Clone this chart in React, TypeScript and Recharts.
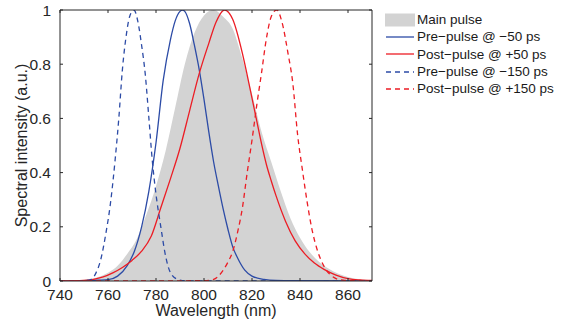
import { Area, ComposedChart, Line, ReferenceLine, XAxis, YAxis } from "recharts";

// wavelength (nm) and normalised spectral intensity
const mainNm = [740, 745, 750, 755, 760, 764, 768, 772, 776, 780, 784, 788, 792, 796, 800, 804, 808, 812, 816, 820, 824, 828, 832, 836, 840, 844, 848, 852, 856, 860, 865, 870];
const mainVal = [0, 0.002, 0.005, 0.012, 0.03, 0.056, 0.1, 0.155, 0.245, 0.35, 0.48, 0.64, 0.8, 0.915, 0.98, 1.0, 0.975, 0.93, 0.82, 0.69, 0.55, 0.44, 0.33, 0.232, 0.16, 0.107, 0.07, 0.045, 0.027, 0.015, 0.006, 0.002];

const pre50Nm = [740, 750, 756, 760, 764, 768, 771, 774, 777, 780, 783, 786, 788, 790, 791, 792, 794, 796, 798, 800, 802, 804, 806, 808, 810, 812, 814, 817, 820, 825, 830, 840, 870];
const pre50Val = [0, 0.001, 0.003, 0.005, 0.018, 0.057, 0.11, 0.2, 0.33, 0.51, 0.74, 0.89, 0.96, 0.995, 1.0, 0.995, 0.95, 0.87, 0.78, 0.67, 0.55, 0.44, 0.35, 0.265, 0.19, 0.125, 0.085, 0.04, 0.018, 0.006, 0.002, 0.001, 0];

const post50Nm = [740, 750, 754, 758, 762, 766, 770, 774, 778, 782, 786, 790, 794, 798, 802, 805, 808.5, 812, 816, 818, 820, 822, 824, 826, 828, 830, 834, 838, 842, 846, 850, 855, 860, 865, 870];
const post50Val = [0, 0.002, 0.006, 0.015, 0.03, 0.05, 0.076, 0.11, 0.165, 0.27, 0.377, 0.49, 0.628, 0.765, 0.877, 0.955, 1.0, 0.965, 0.84, 0.76, 0.675, 0.59, 0.505, 0.43, 0.37, 0.315, 0.22, 0.148, 0.1, 0.066, 0.043, 0.022, 0.009, 0.004, 0.002];

const pre150Nm = [740, 750, 753, 755, 757, 759, 761, 763, 764.5, 766, 767.5, 769, 770.8, 772.5, 774, 775.5, 777, 778.5, 780, 782, 784, 786, 789, 792, 800, 870];
const pre150Val = [0, 0.001, 0.006, 0.03, 0.08, 0.17, 0.285, 0.45, 0.6, 0.78, 0.9, 0.975, 1.0, 0.955, 0.87, 0.765, 0.605, 0.44, 0.32, 0.2, 0.092, 0.031, 0.006, 0.001, 0, 0];

const post150Nm = [740, 800, 804, 806, 808, 810, 812, 814, 816, 818, 820, 822, 824, 826, 828, 830.3, 832.5, 835, 837, 839, 841, 843, 845, 847, 849, 851, 853, 855, 858, 862, 870];
const post150Val = [0, 0.001, 0.006, 0.018, 0.04, 0.07, 0.11, 0.18, 0.27, 0.4, 0.52, 0.65, 0.77, 0.895, 0.975, 1.0, 0.955, 0.84, 0.73, 0.54, 0.41, 0.29, 0.19, 0.12, 0.072, 0.04, 0.02, 0.009, 0.003, 0.001, 0];

const xTicks = [740, 760, 780, 800, 820, 840, 860];
const yTicks = [0, 0.2, 0.4, 0.6, 0.8, 1];

const legendLabels = [
  "Main pulse",
  "Pre\u2212pulse @ \u221250 ps",
  "Post\u2212pulse @ +50 ps",
  "Pre\u2212pulse @ \u2212150 ps",
  "Post\u2212pulse @ +150 ps",
];

const BLUE = "#2c4ba6";
const RED = "#ec1c24";
const GRAY = "#d3d3d3";
const AXIS = "#262626";
const FONT = "'Liberation Sans', Arial, Helvetica, sans-serif";

const toPoints = (nm: number[], val: number[]) => nm.map((x, i) => ({ nm: x, v: val[i] }));

const mainData = toPoints(mainNm, mainVal);
const pre50Data = toPoints(pre50Nm, pre50Val);
const post50Data = toPoints(post50Nm, post50Val);
const pre150Data = toPoints(pre150Nm, pre150Val);
const post150Data = toPoints(post150Nm, post150Val);

// legend swatches: [kind, colour, dash]
const legendStyles: [string, string, string | undefined][] = [
  ["patch", GRAY, undefined],
  ["line", BLUE, undefined],
  ["line", RED, undefined],
  ["line", BLUE, "5 4"],
  ["line", RED, "5 4"],
];

function PlotLegend() {
  return (
    <div style={{ position: "absolute", left: 385, top: 11, fontFamily: FONT, fontSize: 13.5, color: "#1a1a1a" }}>
      {legendLabels.map((label, i) => {
        const [kind, color, dash] = legendStyles[i];
        return (
          <div key={label} style={{ display: "flex", alignItems: "center", height: 17.3, whiteSpace: "nowrap" }}>
            <svg width={30} height={14} style={{ marginRight: 2 }}>
              {kind === "patch" ? (
                <rect x={0} y={0.5} width={30} height={13} fill={color} />
              ) : (
                <line x1={1} x2={29} y1={7} y2={7} stroke={color} strokeWidth={1.3} strokeDasharray={dash} />
              )}
            </svg>
            <span>{label}</span>
          </div>
        );
      })}
    </div>
  );
}

export default function App() {
  const tickStyle = { fontSize: 15.5, fill: AXIS, fontFamily: FONT };
  return (
    <div style={{ position: "absolute", left: 0, top: 0, width: 561, height: 327, background: "#fff" }}>
      <ComposedChart
        width={561}
        height={327}
        data={mainData}
        margin={{ top: 10, right: 189, bottom: 10, left: 10 }}
        style={{ fontFamily: FONT }}
      >
        <XAxis
          dataKey="nm"
          type="number"
          domain={[740, 870]}
          ticks={xTicks}
          allowDataOverflow
          height={36}
          tickLine={false}
          tickMargin={2}
          tick={tickStyle}
          axisLine={{ stroke: AXIS }}
          label={{ value: "Wavelength (nm)", position: "insideBottom", offset: 1, fontSize: 16, fill: AXIS }}
        />
        <YAxis
          type="number"
          domain={[0, 1]}
          ticks={yTicks}
          allowDataOverflow
          width={50}
          tickLine={false}
          tickMargin={3}
          tick={tickStyle}
          axisLine={{ stroke: AXIS }}
          label={{
            value: "Spectral intensity (a.u.)",
            angle: -90,
            position: "insideLeft",
            offset: 11,
            fontSize: 16,
            fill: AXIS,
            style: { textAnchor: "middle" },
          }}
        />

        <Area dataKey="v" type="monotone" stroke="none" fill={GRAY} fillOpacity={1} isAnimationActive={false} />
        <Line data={pre50Data} dataKey="v" type="monotone" stroke={BLUE} strokeWidth={1.3} dot={false} isAnimationActive={false} />
        <Line data={post50Data} dataKey="v" type="monotone" stroke={RED} strokeWidth={1.3} dot={false} isAnimationActive={false} />
        <Line data={pre150Data} dataKey="v" type="monotone" stroke={BLUE} strokeWidth={1.3} strokeDasharray="5 4" dot={false} isAnimationActive={false} />
        <Line data={post150Data} dataKey="v" type="monotone" stroke={RED} strokeWidth={1.3} strokeDasharray="5 4" dot={false} isAnimationActive={false} />

        {/* closing box: top and right edges */}
        <ReferenceLine y={1} stroke={AXIS} />
        <ReferenceLine x={870} stroke={AXIS} />

        {/* inward tick marks on all four sides, MATLAB style */}
        {xTicks.map((t) => (
          <ReferenceLine key={`xb${t}`} segment={[{ x: t, y: 0 }, { x: t, y: 0.011 }]} stroke={AXIS} />
        ))}
        {xTicks.map((t) => (
          <ReferenceLine key={`xt${t}`} segment={[{ x: t, y: 1 }, { x: t, y: 0.989 }]} stroke={AXIS} />
        ))}
        {yTicks.map((t) => (
          <ReferenceLine key={`yl${t}`} segment={[{ x: 740, y: t }, { x: 741.25, y: t }]} stroke={AXIS} />
        ))}
        {yTicks.map((t) => (
          <ReferenceLine key={`yr${t}`} segment={[{ x: 870, y: t }, { x: 868.75, y: t }]} stroke={AXIS} />
        ))}
      </ComposedChart>
      <PlotLegend />
    </div>
  );
}
